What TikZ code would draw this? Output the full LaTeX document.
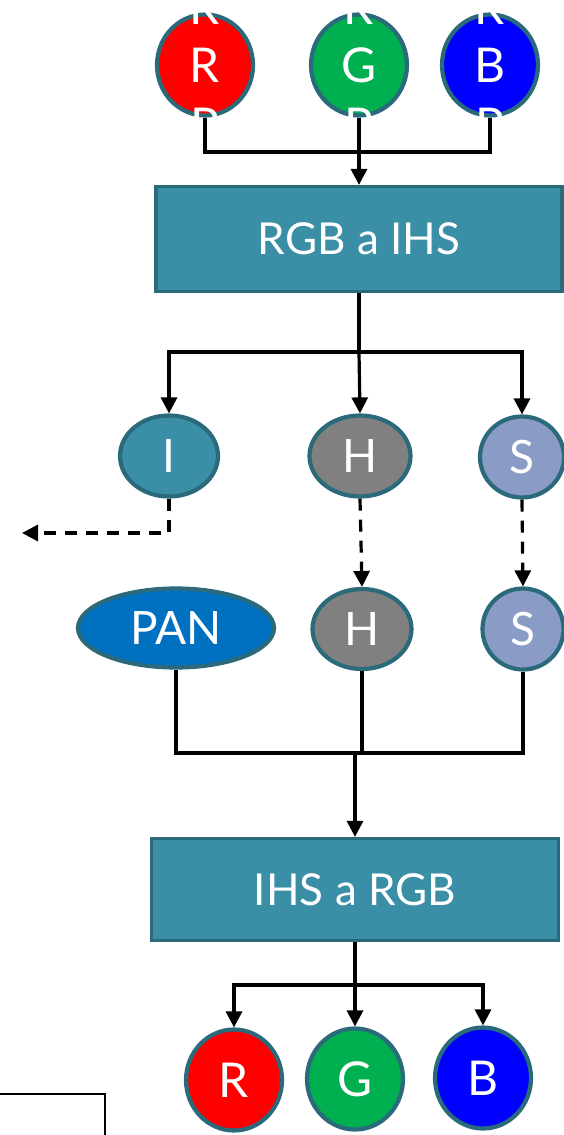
\documentclass[tikz,border=0pt]{standalone}
\usepackage{fontspec}
\setmainfont{Lato}
\usetikzlibrary{shapes.geometric,arrows.meta}
\definecolor{bordc}{HTML}{2A6A7B}
\definecolor{tealf}{HTML}{3A8FA7}
\definecolor{grayf}{HTML}{808080}
\definecolor{lavf}{HTML}{8A9CC6}
\definecolor{panf}{HTML}{0070C0}
\definecolor{redf}{HTML}{FF0000}
\definecolor{greenf}{HTML}{00B050}
\definecolor{bluef}{HTML}{0000FF}
\tikzset{
  bubble/.style={ellipse, draw=bordc, line width=4.2pt, text=white, inner sep=0pt,
    font=\fontsize{46}{50}\selectfont},
  bigbubble/.style={bubble, minimum width=96pt, minimum height=101pt,
    font=\fontsize{48}{52}\selectfont},
  smallbubble/.style={bubble, minimum width=98pt, minimum height=81pt},
  ghost/.style={text=white, inner sep=0pt, anchor=base, font=\fontsize{48}{52}\selectfont},
  procbox/.style={rectangle, draw=bordc, line width=3.2pt, fill=tealf, text=white,
    inner sep=0pt, font=\fontsize{44}{48}\selectfont},
  conn/.style={line width=3.2pt, black},
  arr/.style={conn, -{Triangle[length=16pt,width=16pt]}},
  darr/.style={arr, dash pattern=on 12pt off 9pt}
}
\begin{document}
\begin{tikzpicture}[x=1pt,y=-1pt]
\useasboundingbox (0,0) rectangle (564,1135);
% top circles
\node[bigbubble, fill=redf]   (r1) at (205,65) {R};
\node[bigbubble, fill=greenf] (g1) at (359,65) {G};
\node[bigbubble, fill=bluef]  (b1) at (490,65) {B};
\foreach \n/\x in {rt/205, gt/359, bt/490}{
  \node[ghost] (\n a) at (\x,24) {R};
  \node[ghost] (\n b) at (\x,142) {P};
}
% RGB a IHS
\node[procbox, minimum width=406pt, minimum height=105pt] (rgbihs) at (359,239) {RGB a IHS};
\coordinate (j1) at (359,152);
\draw[conn] (r1.south) |- (j1) -| (b1.south);
\draw[arr] (g1.south) -- (rgbihs.north);
% I H S
\node[smallbubble, fill=tealf] (i1) at (169,456) {I};
\node[smallbubble, fill=grayf, minimum width=101pt] (h1) at (360,456) {H};
\node[bubble, fill=lavf, minimum width=84pt, minimum height=81pt] (s1) at (522,457) {S};
\coordinate (j2) at (359,352);
\draw[conn] (rgbihs.south) -- (j2);
\draw[arr] (j2) -| (i1.north);
\draw[arr] (j2) -| (s1.north);
\draw[arr] (j2) -- (h1.north);
% dashed
\coordinate (out) at (22,533);
\draw[darr] (i1.south) |- (out);
% second row
\node[bubble, fill=panf, minimum width=196pt, minimum height=79pt] (pan) at (176,628) {PAN};
\node[smallbubble, fill=grayf, minimum width=99pt, minimum height=80pt] (h2) at (362,629) {H};
\node[bubble, fill=lavf, minimum width=81pt, minimum height=81pt] (s2) at (523,629) {S};
\draw[darr] (h1.south) -- (h2.north);
\draw[darr] (s1.south) -- (s2.north);
% merge
\coordinate (j3) at (355,753);
\draw[conn] (pan.south) |- (s2.south |- j3) -- (s2.south);
\draw[conn] (h2.south) -- (h2.south |- j3);
\node[procbox, minimum width=407pt, minimum height=102pt] (ihsrgb) at (355,889.5) {IHS a RGB};
\draw[arr] (j3) -- (ihsrgb.north);
% bottom circles
\node[bigbubble, fill=redf]   (r2) at (234,1080) {R};
\node[bigbubble, fill=greenf] (g2) at (355,1079) {G};
\node[bigbubble, fill=bluef]  (b2) at (483,1078) {B};
\coordinate (j4) at (355,985);
\draw[conn] (ihsrgb.south) -- (j4);
\draw[arr] (j4) -| (r2.north);
\draw[arr] (j4) -| (b2.north);
\draw[arr] (j4) -- (g2.north);
% bottom-left frame
\draw[line width=1.3pt] (-5,1094) -- (105,1094) -- (105,1145);
\end{tikzpicture}
\end{document}
